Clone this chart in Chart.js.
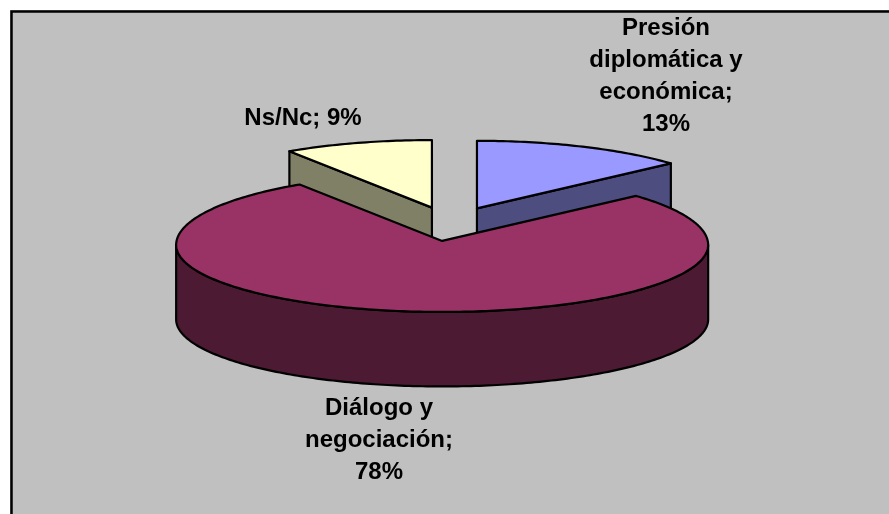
<!DOCTYPE html>
<html lang="es">
<head>
<meta charset="utf-8">
<title>Pie chart</title>
<script src="https://cdn.jsdelivr.net/npm/chart.js@4"></script>
<style>
    html, body { margin: 0; padding: 0; background: #ffffff; }
    #wrap { width: 889px; height: 514px; position: relative; }
</style>
</head>
<body>
<div id="wrap"><canvas id="pieChart"></canvas></div>
<script>
// Chart data
const categories = ['Presión diplomática y económica', 'Diálogo y negociación', 'Ns/Nc'];
const percents = [13, 78, 9];
const topColors = ['#9999FF', '#993366', '#FFFFCC'];
const sideColors = ['#4D4D80', '#4D1A33', '#808066'];
const labelLines = [
    ['Presión', 'diplomática y', 'económica;', '13%'],
    ['Diálogo y', 'negociación;', '78%'],
    ['Ns/Nc; 9%']
];
const labelAnchors = [[666, 28], [379, 408], [303, 118]];

// 3D look settings
const tilt = 0.256;
const backTilt = 0.269;  // far half of the rim looks a bit taller (perspective)
const frontTilt = 0.252;
const rimDrop = 4;       // rim centre sits slightly under the apex
const depth = 74.5;
const explode = 66.6;

// Draws the arcs computed by Chart.js as a tilted, extruded pie
const pie3d = {
    id: 'pie3d',
    beforeDraw(chart) {
        const ctx = chart.ctx;
        ctx.save();
        ctx.fillStyle = '#C0C0C0';
        ctx.fillRect(10, 10, chart.width - 10, chart.height - 10);
        ctx.strokeStyle = '#000000';
        ctx.lineWidth = 2.5;
        ctx.beginPath();
        ctx.moveTo(11.5, chart.height);
        ctx.lineTo(11.5, 11.5);
        ctx.lineTo(chart.width, 11.5);
        ctx.stroke();
        ctx.restore();
    },
    beforeDatasetsDraw(chart) {
        const ctx = chart.ctx;
        const arcs = chart.getDatasetMeta(0).data;
        const order = arcs.map((a, i) => i).sort((p, q) => midSin(arcs[p]) - midSin(arcs[q]));

        ctx.save();
        ctx.lineWidth = 2.2;
        ctx.lineJoin = 'round';
        ctx.strokeStyle = '#000000';
        order.forEach(i => drawSlice(ctx, arcs[i], i));
        ctx.restore();

        drawLabels(ctx);
        return false; // the library's flat arcs are replaced by the ones above
    }
};

function midSin(arc) {
    return Math.sin((arc.startAngle + arc.endAngle) / 2);
}

// position of a slice's apex on screen
function apex(arc) {
    const mid = (arc.startAngle + arc.endAngle) / 2;
    return {
        x: arc.x + Math.cos(mid) * explode,
        y: arc.y + Math.sin(mid) * explode * tilt
    };
}

function rim(arc, angle) {
    const c = apex(arc);
    const s = Math.sin(angle);
    return {
        x: c.x + Math.cos(angle) * arc.outerRadius,
        y: c.y + rimDrop + s * arc.outerRadius * (s < 0 ? backTilt : frontTilt)
    };
}

// adds the rim between two angles to the current path
function rimPath(ctx, arc, from, to, dy) {
    const steps = Math.ceil(Math.abs(to - from) * 60);
    for (let k = 0; k <= steps; k++) {
        const p = rim(arc, from + (to - from) * k / steps);
        ctx.lineTo(p.x, p.y + dy);
    }
}

function paint(ctx, color) {
    ctx.fillStyle = color;
    ctx.fill();
    ctx.stroke();
}

function sideFace(ctx, arc, angle, color) {
    const c = apex(arc);
    const p = rim(arc, angle);
    ctx.beginPath();
    ctx.moveTo(c.x, c.y);
    ctx.lineTo(p.x, p.y);
    ctx.lineTo(p.x, p.y + depth);
    ctx.lineTo(c.x, c.y + depth);
    ctx.closePath();
    paint(ctx, color);
}

function drawSlice(ctx, arc, i) {
    const start = arc.startAngle;
    const end = arc.endAngle;
    const color = sideColors[i];

    // cut faces, only the ones turned towards the viewer
    if (Math.cos(start) < -1e-6) sideFace(ctx, arc, start, color);
    if (Math.cos(end) > 1e-6) sideFace(ctx, arc, end, color);

    // outer wall, front half of the rim only
    const twoPi = Math.PI * 2;
    for (let k = -1; k <= 1; k++) {
        const from = Math.max(start, k * twoPi);
        const to = Math.min(end, k * twoPi + Math.PI);
        if (to > from) {
            ctx.beginPath();
            rimPath(ctx, arc, from, to, 0);
            rimPath(ctx, arc, to, from, depth);
            ctx.closePath();
            paint(ctx, color);
        }
    }

    // top face
    const c = apex(arc);
    ctx.beginPath();
    ctx.moveTo(c.x, c.y);
    rimPath(ctx, arc, start, end, 0);
    ctx.closePath();
    paint(ctx, topColors[i]);
}

function drawLabels(ctx) {
    ctx.save();
    ctx.fillStyle = '#000000';
    ctx.font = 'bold 24px "Liberation Sans", Arial, sans-serif';
    ctx.textAlign = 'center';
    ctx.textBaseline = 'middle';
    labelLines.forEach((lines, i) => {
        lines.forEach((line, n) => {
            ctx.fillText(line, labelAnchors[i][0], labelAnchors[i][1] + n * 32);
        });
    });
    ctx.restore();
}

new Chart(document.getElementById('pieChart'), {
    type: 'pie',
    data: {
        labels: categories,
        datasets: [{
            data: percents,
            backgroundColor: topColors,
            borderWidth: 0
        }]
    },
    options: {
        responsive: true,
        maintainAspectRatio: false,
        animation: false,
        radius: 266,
        layout: { padding: { left: 12, right: 0, top: 0, bottom: 66 } },
        plugins: {
            legend: { display: false },
            tooltip: { enabled: false }
        }
    },
    plugins: [pie3d]
});
</script>
</body>
</html>
